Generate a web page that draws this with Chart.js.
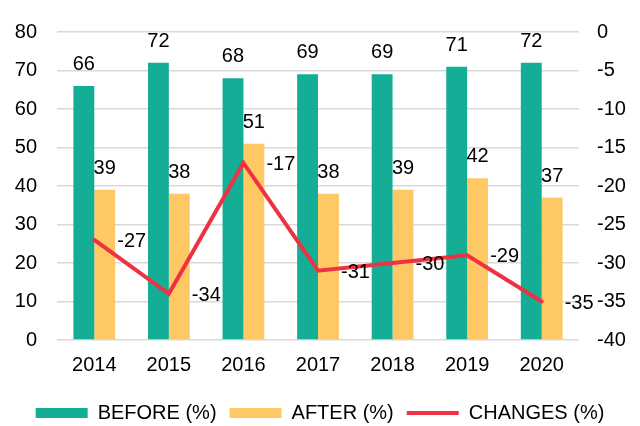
<!DOCTYPE html>
<html>
<head>
<meta charset="utf-8">
<script src="https://cdn.jsdelivr.net/npm/chart.js@4.4.0/dist/chart.umd.min.js"></script>
<style>
  html, body { margin: 0; padding: 0; background: #fff; }
  #wrap { width: 640px; height: 426px; position: relative; }
</style>
</head>
<body>
<div id="wrap"><canvas id="combo_chart"></canvas></div>
<script>
var years = ['2014', '2015', '2016', '2017', '2018', '2019', '2020'];
var before = [66, 72, 68, 69, 69, 71, 72];
var after = [39, 38, 51, 38, 39, 42, 37];
var changes = [-27, -34, -17, -31, -30, -29, -35];

var colorBefore = '#14ae97';
var colorAfter = '#fec865';
var colorChanges = '#ee3242';
var fontFamily = '"Liberation Sans", Arial, sans-serif';

// value labels: above the bars, right of the line points
var valueLabels = {
    id: 'valueLabels',
    afterDatasetsDraw: function (chart) {
        var ctx = chart.ctx;
        ctx.save();
        ctx.font = '20px ' + fontFamily;
        ctx.fillStyle = '#000';
        chart.data.datasets.forEach(function (ds, i) {
            var meta = chart.getDatasetMeta(i);
            meta.data.forEach(function (el, j) {
                if (ds.type === 'line') {
                    ctx.textAlign = 'left';
                    ctx.textBaseline = 'middle';
                    ctx.fillText(ds.data[j], el.x + 23, el.y + 1.5);
                } else {
                    ctx.textAlign = 'center';
                    ctx.textBaseline = 'alphabetic';
                    ctx.fillText(ds.data[j], el.x, el.y - 16);
                }
            });
        });
        ctx.restore();
    }
};

var combo_chart = document.getElementById('combo_chart');
var combo_config = {
    type: 'bar',
    data: {
        labels: years,
        datasets: [
            {
                label: 'BEFORE (%)',
                data: before,
                backgroundColor: colorBefore,
                borderWidth: 0,
                pointStyle: 'rect',
                yAxisID: 'y',
                order: 1
            },
            {
                label: 'AFTER (%)',
                data: after,
                backgroundColor: colorAfter,
                borderWidth: 0,
                pointStyle: 'rect',
                yAxisID: 'y',
                order: 1
            },
            {
                type: 'line',
                label: 'CHANGES (%)',
                data: changes,
                borderColor: colorChanges,
                backgroundColor: colorChanges,
                borderWidth: 4,
                borderCapStyle: 'round',
                borderJoinStyle: 'miter',
                pointRadius: 0,
                pointStyle: 'line',
                tension: 0,
                yAxisID: 'y2',
                order: 0
            }
        ]
    },
    plugins: [valueLabels],
    options: {
        responsive: true,
        maintainAspectRatio: false,
        animation: false,
        layout: {
            padding: { top: 17, bottom: -7 }
        },
        datasets: {
            bar: {
                categoryPercentage: 0.56,
                barPercentage: 1
            }
        },
        plugins: {
            tooltip: { enabled: false },
            legend: {
                position: 'bottom',
                labels: {
                    usePointStyle: true,
                    pointStyleWidth: 52,
                    boxHeight: 10,
                    padding: 13,
                    color: '#000',
                    font: { family: fontFamily, size: 20 },
                    sort: function (a, b) { return a.datasetIndex - b.datasetIndex; }
                }
            }
        },
        scales: {
            x: {
                grid: { display: false, drawTicks: false },
                border: { display: false },
                ticks: {
                    padding: 13,
                    color: '#000',
                    font: { family: fontFamily, size: 20 }
                }
            },
            y: {
                position: 'left',
                min: 0,
                max: 80,
                grid: { color: '#d9d9d9', lineWidth: 1.5, drawTicks: false },
                border: { display: false },
                ticks: {
                    stepSize: 10,
                    padding: 20,
                    color: '#000',
                    font: { family: fontFamily, size: 20 }
                },
                afterFit: function (scale) { scale.width = 57; }
            },
            y2: {
                position: 'right',
                min: -40,
                max: 0,
                grid: { display: false, drawTicks: false },
                border: { display: false },
                ticks: {
                    stepSize: 5,
                    padding: 18,
                    color: '#000',
                    font: { family: fontFamily, size: 20 }
                },
                afterFit: function (scale) { scale.width = 61; }
            }
        }
    }
};
var combo = new Chart(combo_chart, combo_config);
</script>
</body>
</html>
